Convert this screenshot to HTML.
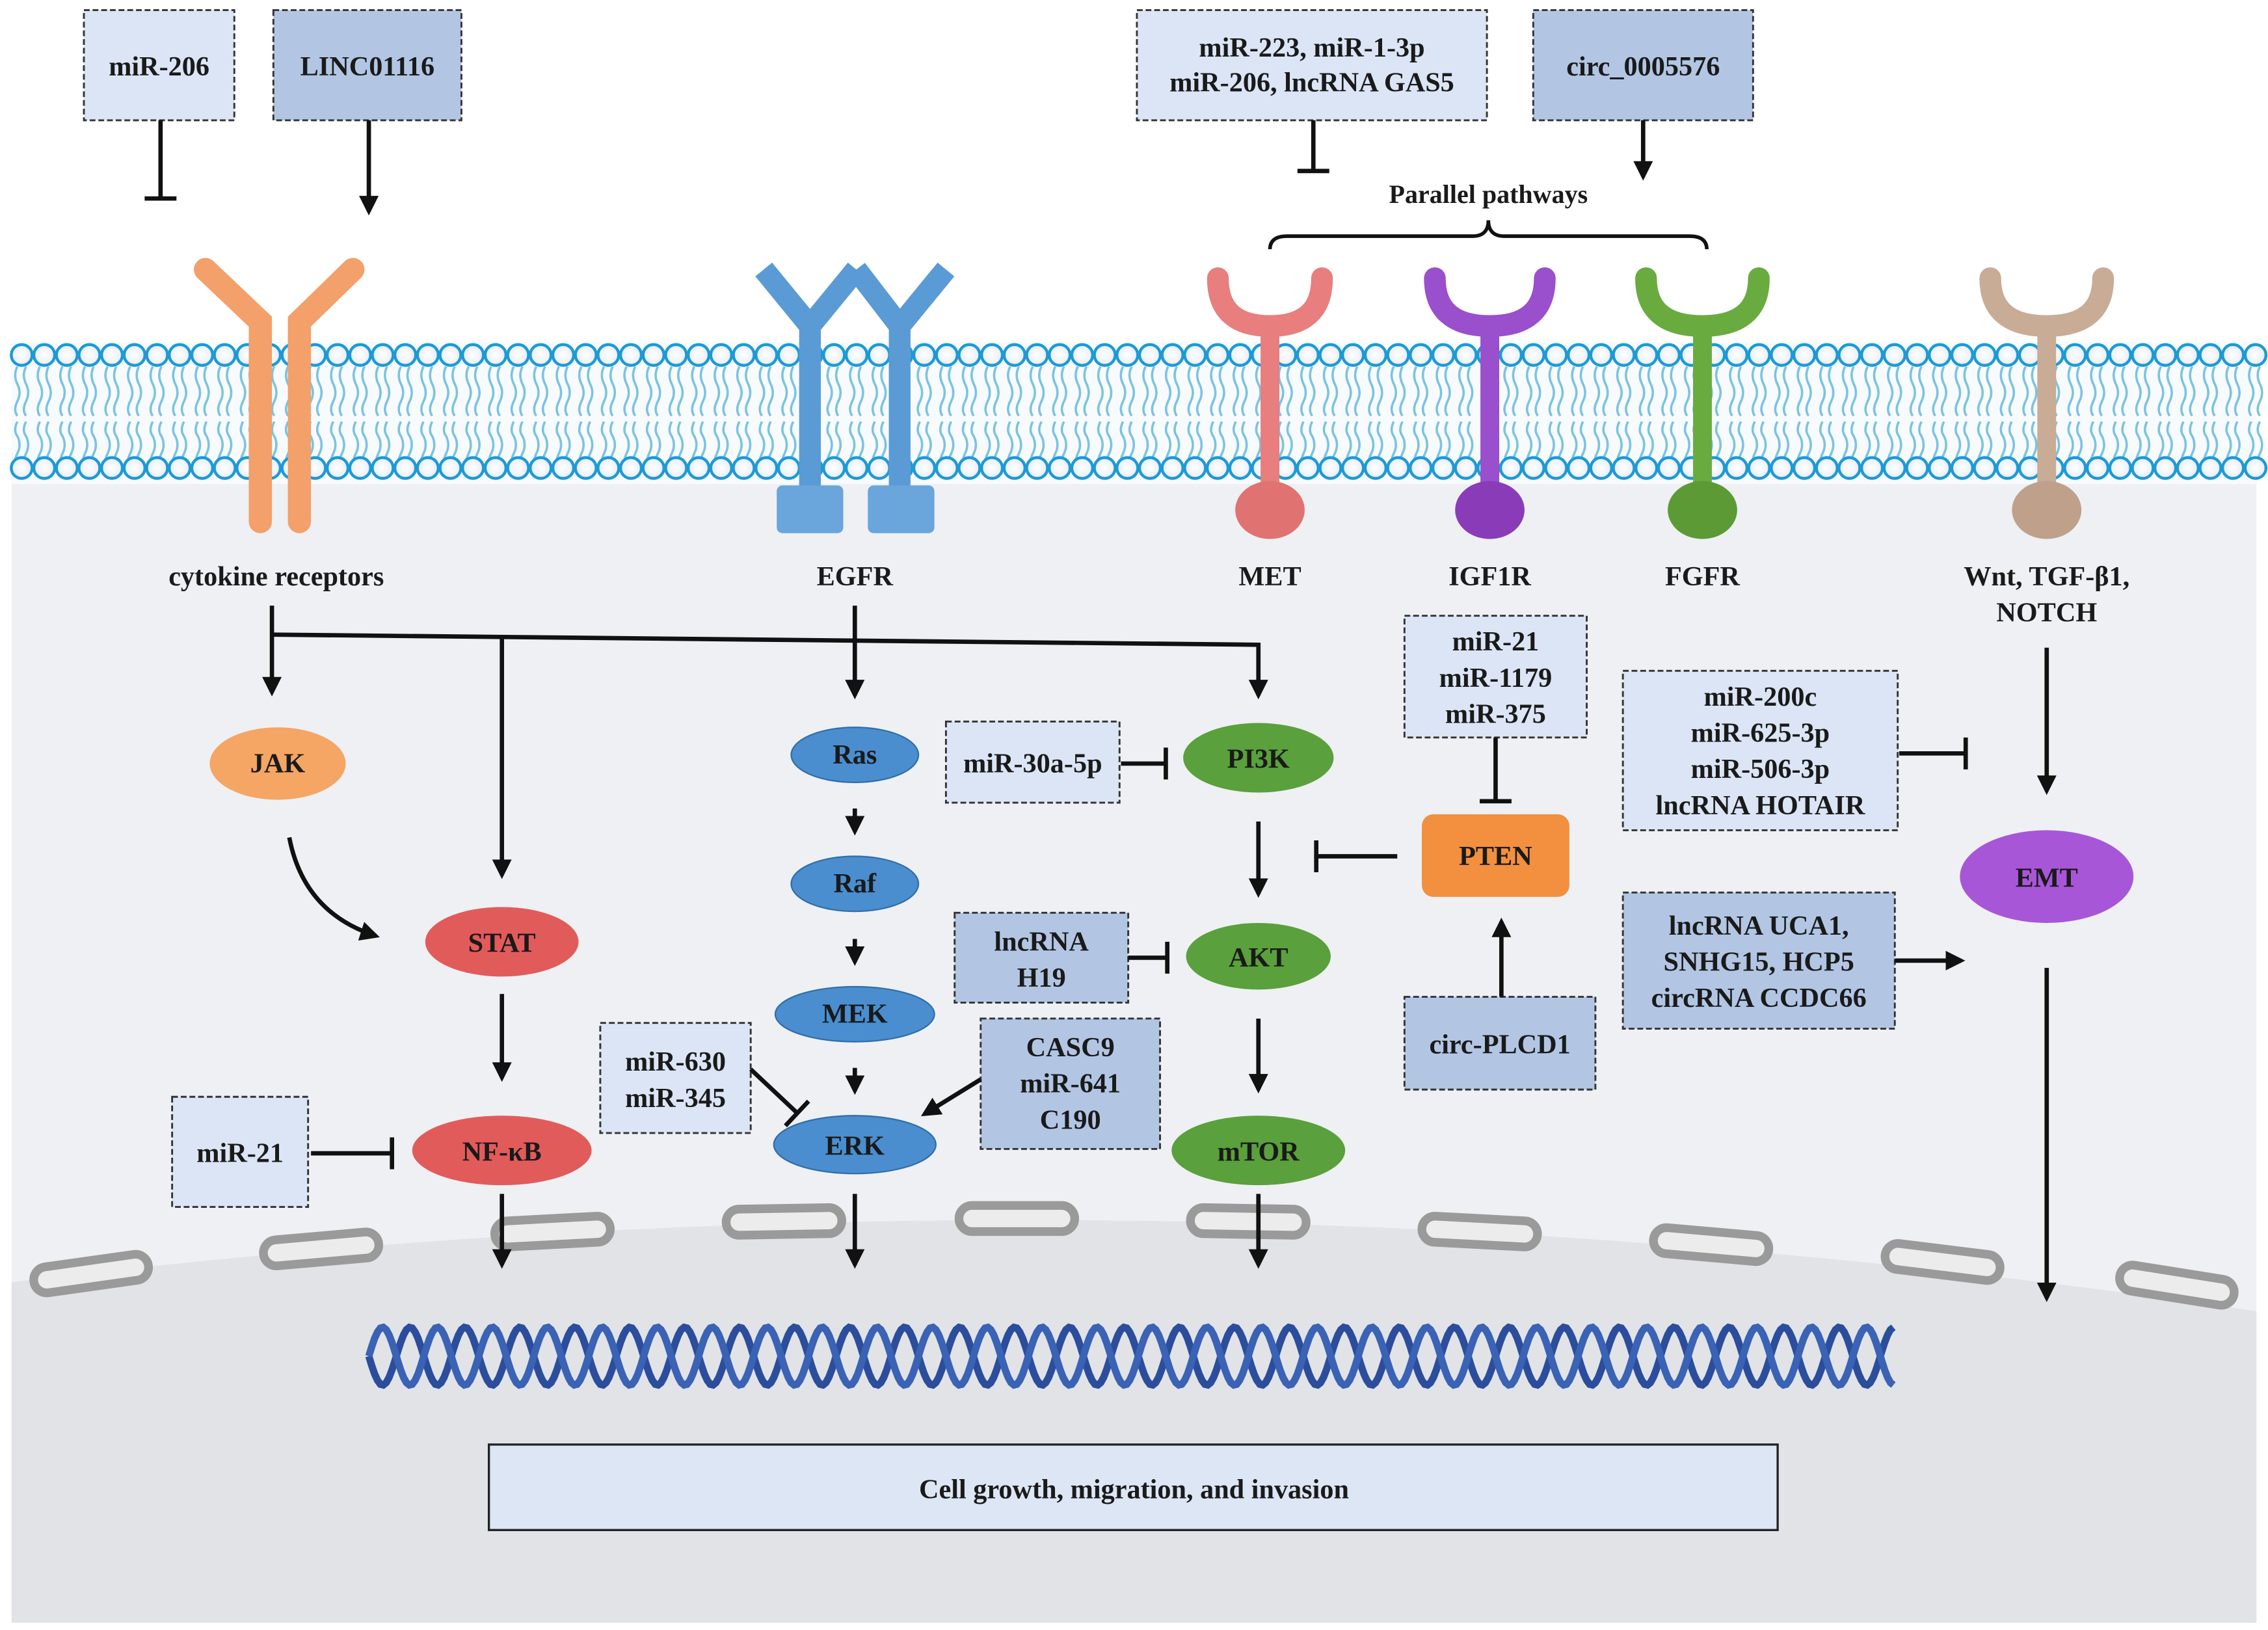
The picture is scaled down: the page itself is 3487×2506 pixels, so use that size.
<!DOCTYPE html>
<html><head><meta charset="utf-8"><style>
html,body{margin:0;padding:0;background:#fff;}
svg{display:block;}
text{font-family:"Liberation Serif",serif;font-weight:bold;fill:#1a1a1a;}
</style></head><body>
<svg id="s" width="3487" height="2506" viewBox="0 0 1568 1125" preserveAspectRatio="none" xmlns="http://www.w3.org/2000/svg">
<defs>
<marker id="ar" viewBox="0 0 10 10" refX="8" refY="5" markerWidth="4.5" markerHeight="4.5" orient="auto"><path d="M0,0 L10,5 L0,10 z" fill="#111"/></marker>
<radialGradient id="hd"><stop offset="0" stop-color="#fff"/><stop offset="1" stop-color="#e6eef8"/></radialGradient>
</defs>
<rect x="0" y="0" width="1568" height="1125" fill="#fff"/>
<rect x="8" y="238" width="1552" height="882" fill="#eef0f3"/>
<rect x="8" y="236" width="1552" height="98" fill="#f7fbfe"/>
<path d="M8,885 Q784,790 1560,905 L1560,1120 L8,1120 Z" fill="#e1e3e7"/>
<g id="mem"></g>
<g id="pores"></g>
<g id="dna"></g>

<!-- receptors -->
<g stroke-linecap="round" fill="none">
 <!-- cytokine -->
 <path d="M142,186 L180,222 L180,360" stroke="#f3a06a" stroke-width="16"/>
 <path d="M244,186 L207,222 L207,360" stroke="#f3a06a" stroke-width="16"/>
 <!-- EGFR -->
 <path d="M528,186 L560,225 L592,186 M560,225 L560,340" stroke="#5b9bd5" stroke-width="15" stroke-linecap="butt"/>
 <path d="M592,186 L622,225 L654,186 M622,225 L622,340" stroke="#5b9bd5" stroke-width="15" stroke-linecap="butt"/>
 <!-- MET -->
 <path d="M842,192 Q842,225 878,225 Q914,225 914,192" stroke="#e87e7e" stroke-width="15"/>
 <path d="M878,225 L878,345" stroke="#e87e7e" stroke-width="13"/>
 <path d="M992,192 Q992,225 1030,225 Q1068,225 1068,192" stroke="#9a4fcc" stroke-width="15"/>
 <path d="M1030,225 L1030,345" stroke="#9a4fcc" stroke-width="13"/>
 <path d="M1138,192 Q1138,225 1177,225 Q1216,225 1216,192" stroke="#6aab3f" stroke-width="15"/>
 <path d="M1177,225 L1177,345" stroke="#6aab3f" stroke-width="13"/>
 <path d="M1376,192 Q1376,225 1415,225 Q1454,225 1454,192" stroke="#c9ac96" stroke-width="15"/>
 <path d="M1415,225 L1415,345" stroke="#c9ac96" stroke-width="13"/>
</g>
<rect x="537" y="335" width="46" height="33" rx="4" fill="#6aa5dc"/>
<rect x="600" y="335" width="46" height="33" rx="4" fill="#6aa5dc"/>
<ellipse cx="878" cy="352" rx="24" ry="20" fill="#e07272"/>
<ellipse cx="1030" cy="352" rx="24" ry="20" fill="#8a3cb8"/>
<ellipse cx="1177" cy="352" rx="24" ry="20" fill="#5c9a35"/>
<ellipse cx="1415" cy="352" rx="24" ry="20" fill="#bfa08a"/>

<!-- brace -->
<path d="M878,172 Q878,163 890,163 L1018,163 Q1029,163 1029,152 Q1029,163 1040,163 L1168,163 Q1180,163 1180,172" fill="none" stroke="#111" stroke-width="2.5"/>

<!-- boxes -->
<g stroke="#333" stroke-width="1.3" stroke-dasharray="4,2">
 <rect x="58" y="7" width="104" height="76" fill="#dbe5f5"/>
 <rect x="189" y="7" width="130" height="76" fill="#b2c6e4"/>
 <rect x="786" y="7" width="242" height="76" fill="#dbe5f5"/>
 <rect x="1060" y="7" width="152" height="76" fill="#b2c6e4"/>
 <rect x="971" y="425" width="126" height="84" fill="#dbe5f5"/>
 <rect x="1122" y="463" width="190" height="110" fill="#dbe5f5"/>
 <rect x="1122" y="616" width="188" height="94" fill="#b2c6e4"/>
 <rect x="971" y="688" width="132" height="64" fill="#b2c6e4"/>
 <rect x="654" y="498" width="120" height="56" fill="#dbe5f5"/>
 <rect x="660" y="630" width="120" height="62" fill="#b2c6e4"/>
 <rect x="415" y="706" width="104" height="76" fill="#dbe5f5"/>
 <rect x="678" y="703" width="124" height="90" fill="#b2c6e4"/>
 <rect x="119" y="757" width="94" height="76" fill="#dbe5f5"/>
</g>
<rect x="338" y="997" width="891" height="59" fill="#dde6f5" stroke="#222" stroke-width="1.5"/>

<!-- nodes -->
<ellipse cx="192" cy="527" rx="47" ry="25" fill="#f5a564"/>
<ellipse cx="347" cy="650" rx="53" ry="24" fill="#e25b5b"/>
<ellipse cx="347" cy="794" rx="62" ry="24" fill="#e25b5b"/>
<g fill="#4a8ed0" stroke="#2f6ea8" stroke-width="1">
<ellipse cx="591" cy="521" rx="44" ry="19"/>
<ellipse cx="591" cy="610" rx="44" ry="19"/>
<ellipse cx="591" cy="700" rx="55" ry="19"/>
<ellipse cx="591" cy="790" rx="56" ry="20"/>
</g>
<g fill="#5aa03c">
<ellipse cx="870" cy="523" rx="52" ry="24"/>
<ellipse cx="870" cy="660" rx="50" ry="23"/>
<ellipse cx="870" cy="794" rx="60" ry="24"/>
</g>
<rect x="983" y="562" width="102" height="57" rx="8" fill="#f29040"/>
<ellipse cx="1415" cy="605" rx="60" ry="32" fill="#a856d8"/>

<!-- connectors -->
<g stroke="#111" stroke-width="3" fill="none">
 <path d="M255,83 V146" marker-end="url(#ar)"/>
 <path d="M111,83 V136 M100,137 H122"/>
 <path d="M908,83 V117 M897,118 H919"/>
 <path d="M1136,83 V122" marker-end="url(#ar)"/>
 <path d="M188,418 V478" marker-end="url(#ar)"/>
 <path d="M188,438 L870,445 V480" marker-end="url(#ar)"/>
 <path d="M347,441 V604" marker-end="url(#ar)"/>
 <path d="M591,418 V480" marker-end="url(#ar)"/>
 <path d="M200,578 Q210,630 260,646" marker-end="url(#ar)"/>
 <path d="M347,686 V744" marker-end="url(#ar)"/>
 <path d="M591,558 V574" marker-end="url(#ar)"/>
 <path d="M591,648 V664" marker-end="url(#ar)"/>
 <path d="M591,737 V753" marker-end="url(#ar)"/>
 <path d="M775,527 H806 M806,516 V538"/>
 <path d="M870,567 V617" marker-end="url(#ar)"/>
 <path d="M870,703 V752" marker-end="url(#ar)"/>
 <path d="M966,591 H910 M910,580 V602"/>
 <path d="M1034,509 V553 M1023,553 H1045"/>
 <path d="M1038,688 V636" marker-end="url(#ar)"/>
 <path d="M780,661 H807 M807,650 V672"/>
 <path d="M519,738 L551,768 M543,777 L559,760"/>
 <path d="M678,745 L639,769" marker-end="url(#ar)"/>
 <path d="M215,796 H271 M271,785 V807"/>
 <path d="M1313,520 H1359 M1359,509 V531"/>
 <path d="M1310,663 H1356" marker-end="url(#ar)"/>
 <path d="M1415,447 V546" marker-end="url(#ar)"/>
 <path d="M1415,668 V896" marker-end="url(#ar)"/>
 <path d="M347,824 V873" marker-end="url(#ar)"/>
 <path d="M591,824 V873" marker-end="url(#ar)"/>
 <path d="M870,824 V873" marker-end="url(#ar)"/>
</g>

<!-- labels -->
<g font-size="19" text-anchor="middle">
<text x="110" y="52">miR-206</text>
<text x="254" y="52">LINC01116</text>
<text x="907" y="39">miR-223, miR-1-3p</text>
<text x="907" y="63">miR-206, lncRNA GAS5</text>
<text x="1136" y="52">circ_0005576</text>
<text x="1029" y="140" font-size="18" fill="#333">Parallel pathways</text>
<text x="191" y="404">cytokine receptors</text>
<text x="591" y="404">EGFR</text>
<text x="878" y="404">MET</text>
<text x="1030" y="404">IGF1R</text>
<text x="1177" y="404">FGFR</text>
<text x="1415" y="404">Wnt, TGF-β1,</text>
<text x="1415" y="429">NOTCH</text>
<text x="1034" y="449">miR-21</text>
<text x="1034" y="474">miR-1179</text>
<text x="1034" y="499">miR-375</text>
<text x="1217" y="487">miR-200c</text>
<text x="1217" y="512">miR-625-3p</text>
<text x="1217" y="537">miR-506-3p</text>
<text x="1217" y="562">lncRNA HOTAIR</text>
<text x="1216" y="645">lncRNA UCA1,</text>
<text x="1216" y="670">SNHG15, HCP5</text>
<text x="1216" y="695">circRNA CCDC66</text>
<text x="1037" y="727">circ-PLCD1</text>
<text x="714" y="533">miR-30a-5p</text>
<text x="720" y="656">lncRNA</text>
<text x="720" y="681">H19</text>
<text x="467" y="739">miR-630</text>
<text x="467" y="764">miR-345</text>
<text x="740" y="729">CASC9</text>
<text x="740" y="754">miR-641</text>
<text x="740" y="779">C190</text>
<text x="166" y="802">miR-21</text>
<text x="192" y="533">JAK</text>
<text x="347" y="657">STAT</text>
<text x="347" y="801">NF-κB</text>
<text x="591" y="527">Ras</text>
<text x="591" y="616">Raf</text>
<text x="591" y="706">MEK</text>
<text x="591" y="797">ERK</text>
<text x="870" y="530">PI3K</text>
<text x="870" y="667">AKT</text>
<text x="870" y="801">mTOR</text>
<text x="1034" y="597">PTEN</text>
<text x="1415" y="612">EMT</text>
<text x="784" y="1034">Cell growth, migration, and invasion</text>
</g>
</svg>
<script>
var NS="http://www.w3.org/2000/svg";
function el(p,t,a){var e=document.createElementNS(NS,t);for(var k in a)e.setAttribute(k,a[k]);p.appendChild(e);return e;}
var m=document.getElementById("mem");
var d="";
for(var x=15;x<1560;x+=15.6){
 [-3,3].forEach(function(o){var cx=x+o;
  d+="M"+cx+",253 q-3,6 0,12 q3,6 0,12 q-3,6 0,10";
  d+="M"+cx+",291 q-3,6 0,10 q3,6 0,12 q-3,6 0,12";});
}
el(m,"path",{d:d,fill:"none",stroke:"#7cc3df","stroke-width":"1.6"});
for(var x=15;x<1560;x+=15.6){
 el(m,"circle",{cx:x,cy:245,r:7.2,fill:"url(#hd)",stroke:"#1d9ad6","stroke-width":"2"});
 el(m,"circle",{cx:x,cy:323,r:7.2,fill:"url(#hd)",stroke:"#1d9ad6","stroke-width":"2"});
}
var pg=document.getElementById("pores");
[[63,879,-8],[222,862,-5],[382,850,-3],[542,843,-1],[703,841,0],[863,843,1],[1023,850,3],[1183,859,5],[1343,871,7],[1505,887,9]].forEach(function(p){
 el(pg,"rect",{x:p[0]-40,y:p[1]-9,width:80,height:18,rx:9,fill:"#ececec",stroke:"#9a9a9a","stroke-width":"6",transform:"rotate("+p[2]+" "+p[0]+" "+p[1]+")"});
});
var dg=document.getElementById("dna");
var a="",b="",r="";
for(var x=255;x<=1310;x+=2){
 var y1=936+20*Math.sin((x-255)/38*2*Math.PI), y2=936-20*Math.sin((x-255)/38*2*Math.PI);
 a+=(x==255?"M":"L")+x+","+y1.toFixed(1); b+=(x==255?"M":"L")+x+","+y2.toFixed(1);
}
el(dg,"path",{d:a,fill:"none",stroke:"#2b4d9c","stroke-width":"5"});
el(dg,"path",{d:b,fill:"none",stroke:"#3a62b5","stroke-width":"5"});
</script>
</body></html>
